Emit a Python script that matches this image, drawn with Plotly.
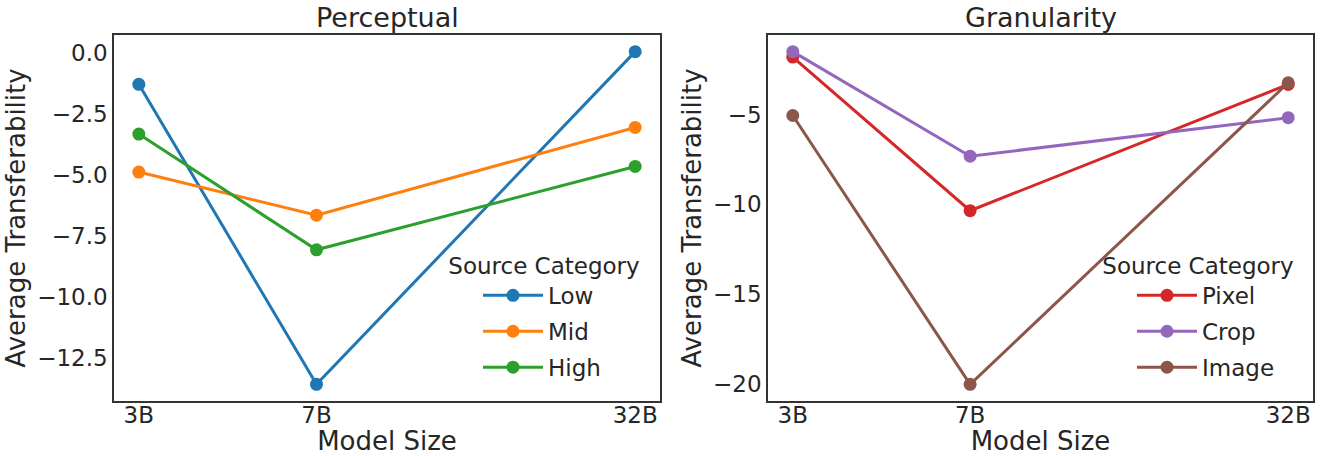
import math
import plotly.graph_objects as go

model_sizes = [3, 7, 32]
model_labels = ["3B", "7B", "32B"]

perc_names = ["Low", "Mid", "High"]
perc_low = [-1.29, -13.60, 0.05]
perc_mid = [-4.89, -6.66, -3.06]
perc_high = [-3.33, -8.08, -4.66]

gran_names = ["Pixel", "Crop", "Image"]
gran_pixel = [-1.81, -10.35, -3.33]
gran_crop = [-1.51, -7.32, -5.18]
gran_image = [-5.06, -20.00, -3.24]

perc_colors = ["#1f77b4", "#ff7f0e", "#2ca02c"]
gran_colors = ["#d62728", "#9467bd", "#8c564b"]

left_yticks = [0.0, -2.5, -5.0, -7.5, -10.0, -12.5]
right_yticks = [-5, -10, -15, -20]

TXT = "#262626"
FONT = "DejaVu Sans"
W, H = 1320, 456
MT, MB = 35, 55

fig = go.Figure()
for i, (name, vals, col) in enumerate(zip(perc_names, [perc_low, perc_mid, perc_high], perc_colors)):
    fig.add_trace(go.Scatter(x=model_sizes, y=vals, name=name, mode="lines+markers",
                             line=dict(color=col, width=3), marker=dict(color=col, size=13),
                             xaxis="x", yaxis="y", legend="legend", legendgroup=f"p{i}"))
for i, (name, vals, col) in enumerate(zip(gran_names, [gran_pixel, gran_crop, gran_image], gran_colors)):
    fig.add_trace(go.Scatter(x=model_sizes, y=vals, name=name, mode="lines+markers",
                             line=dict(color=col, width=3), marker=dict(color=col, size=13),
                             xaxis="x2", yaxis="y2", legend="legend2", legendgroup=f"g{i}"))

def pad(vals, frac=0.05):
    lo, hi = min(vals), max(vals)
    s = hi - lo
    return [lo - frac * s, hi + frac * s]

xr = pad([math.log10(min(model_sizes)), math.log10(max(model_sizes))])

perc_all = perc_low + perc_mid + perc_high
gran_all = gran_pixel + gran_crop + gran_image

def fmt(v, d):
    s = f"{abs(v):.{d}f}"
    return ("\u2212" + s) if v < 0 else s

ax_common = dict(showgrid=False, zeroline=False, showline=True, mirror=True,
                 linecolor="#333333", linewidth=1.5, ticks="",
                 tickfont=dict(family=FONT, size=23, color=TXT),
                 title_font=dict(family=FONT, size=26, color=TXT))

d1 = [114 / W, 660 / W]
d2 = [768 / W, 1313 / W]

def leg(xright):
    return dict(title=dict(text="Source Category", side="top center",
                           font=dict(family=FONT, size=23, color=TXT)),
                font=dict(family=FONT, size=23, color=TXT),
                x=xright / W, xanchor="right",
                y=(H - MB - 389) / (H - MT - MB), yanchor="bottom",
                bgcolor="rgba(0,0,0,0)", itemwidth=60, indentation=32,
                traceorder="grouped", tracegroupgap=3)

xcommon = dict(type="log", range=xr, tickvals=model_sizes, ticktext=model_labels,
               ticklabelstandoff=-7, title=dict(text="Model Size", standoff=10))

fig.update_layout(
    width=W, height=H,
    margin=dict(l=0, r=0, t=MT, b=MB),
    plot_bgcolor="white", paper_bgcolor="white",
    font=dict(family=FONT, color=TXT),
    xaxis=dict(domain=d1, anchor="y", **xcommon, **ax_common),
    yaxis=dict(domain=[0, 1], range=pad(perc_all), tickvals=left_yticks,
               ticktext=[fmt(v, 1) for v in left_yticks],
               title=dict(text="Average Transferability", standoff=4), anchor="x", **ax_common),
    xaxis2=dict(domain=d2, anchor="y2", **xcommon, **ax_common),
    yaxis2=dict(domain=[0, 1], range=pad(gran_all), tickvals=right_yticks,
                ticktext=[fmt(v, 0) for v in right_yticks],
                title=dict(text="Average Transferability", standoff=4), anchor="x2", **ax_common),
    legend=leg(642),
    legend2=leg(1296),
    annotations=[
        dict(text="Perceptual", x=(d1[0] + d1[1]) / 2, y=1, xref="paper", yref="paper",
             xanchor="center", yanchor="bottom", yshift=0, showarrow=False,
             font=dict(family=FONT, size=27, color=TXT)),
        dict(text="Granularity", x=(d2[0] + d2[1]) / 2, y=1, xref="paper", yref="paper",
             xanchor="center", yanchor="bottom", yshift=0, showarrow=False,
             font=dict(family=FONT, size=27, color=TXT)),
    ],
)

fig.write_html("out.html", config={"displayModeBar": False},
               post_script="document.body.style.margin='0';document.body.style.overflow='hidden';")
